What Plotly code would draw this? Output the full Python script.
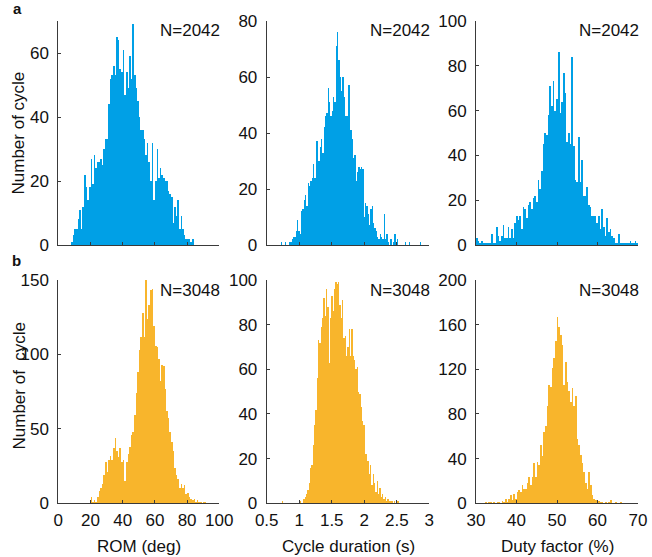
import numpy as np
import plotly.graph_objects as go

# ---------------- data (bin counts) ----------------
# Row a (blue, N=2042)
rom_a_start, rom_a_width = 8.0, 1.0
rom_a_counts = [1,3,5,5,8,11,5,12,22,18,14,18,27,19,28,24,26,26,27,25,30,33,
                33,44,52,53,56,53,65,64,55,54,61,47,54,49,59,52,69,53,49,45,40,36,36,33,
                28,32,26,20,32,14,20,30,21,24,22,21,20,20,17,16,15,7,12,9,14,5,9,5,3,2,2,2,1,2]

dur_a_start, dur_a_width = 0.72, 0.0205
dur_a_counts = [1,0,0,1,0,0,1,1,
                2,3,3,5,9,5,4,12,13,16,18,14,22,21,23,24,29,24,37,37,30,35,38,33,42,46,47,56,51,46,
                48,53,51,71,76,66,60,55,60,53,46,46,57,57,41,38,31,32,23,26,28,27,28,27,10,15,14,11,7,13,
                14,8,6,5,3,2,4,3,2,11,
                2,4,1,0,2,0,1,4,1,2,0,0,0,0,0,1,0,0,1,0,0,0,0,0,0,0,1]

duty_a_start, duty_a_width = 30.0, 40.0 / 97
duty_a_counts = [3,2,1,2,1,1,1,1,1,5,1,1,8,4,2,4,9,3,3,8,3,7,3,10,13,11,13,7,17,16,
                 12,18,19,16,21,22,19,29,25,33,45,50,49,58,71,62,73,60,65,86,59,64,77,68,46,50,45,84,44,29,
                 28,48,28,38,22,22,26,18,17,13,13,13,10,13,7,16,8,4,12,6,7,4,3,1,1,5,1,1,1,1,
                 1,1,2,1,1,2,1]

# Row b (orange, N=3048)
rom_b_start, rom_b_width = 20.0, 1.0
rom_b_counts = [4,1,2,1,4,8,10,13,19,28,21,29,32,29,37,44,35,31,37,28,
                29,15,28,33,38,46,48,59,74,88,103,112,128,112,150,124,133,143,144,119,
                106,105,97,82,93,92,77,62,57,48,41,35,24,19,16,10,13,10,12,6,
                7,4,3,2,3,1,2,1,1,0,1,1]

dur_b_start, dur_b_width = 0.7356, 0.0205
dur_b_counts = [1,0,0,0,0,0,0,0,0,0,0,0,0,1,0,0,
                2,3,4,6,9,16,17,26,35,42,56,73,72,79,83,92,84,96,88,63,83,93,86,96,99,
                98,99,89,83,91,74,75,66,70,78,66,78,66,64,60,61,50,49,43,37,35,22,22,19,13,
                17,8,13,9,5,10,4,7,3,4,2,3,1,2,1,1,
                1,0,1,0,1,1,0,0]

duty_b_start, duty_b_width = 32.22, 0.4115
duty_b_counts = [1,0,1,1,0,1,0,1,1,0,2,1,
                 4,1,4,7,3,8,4,10,12,10,16,13,13,18,24,16,24,36,24,37,34,52,42,64,69,87,106,104,
                 121,130,145,167,158,151,142,106,127,109,101,91,103,87,96,58,52,43,36,28,18,13,28,16,7,4,3,1,
                 2,1,1,0,1,0,1,3,0,0,1,0,0,1]

n_labels = ["N=2042", "N=3048"]
x_titles = ["ROM (deg)", "Cycle duration (s)", "Duty factor (%)"]
y_titles = ["Number of cycle", "Number of\u00a0 cycle"]

x_ranges = [[0, 100], [0.5, 3], [30, 70]]
x_tickvals = [[0, 20, 40, 60, 80, 100], [0.5, 1, 1.5, 2, 2.5, 3], [30, 40, 50, 60, 70]]
x_ticktext = [["0", "20", "40", "60", "80", "100"], ["0.5", "1", "1.5", "2", "2.5", "3"],
              ["30", "40", "50", "60", "70"]]
y_ranges = [[[0, 70], [0, 80], [0, 100]], [[0, 150], [0, 100], [0, 200]]]
y_tickvals = [[[0, 20, 40, 60], [0, 20, 40, 60, 80], [0, 20, 40, 60, 80, 100]],
              [[0, 50, 100, 150], [0, 20, 40, 60, 80, 100], [0, 40, 80, 120, 160, 200]]]

series = [[(rom_a_start, rom_a_width, rom_a_counts),
           (dur_a_start, dur_a_width, dur_a_counts),
           (duty_a_start, duty_a_width, duty_a_counts)],
          [(rom_b_start, rom_b_width, rom_b_counts),
           (dur_b_start, dur_b_width, dur_b_counts),
           (duty_b_start, duty_b_width, duty_b_counts)]]

colors = ["#00A0E6", "#F8B52C"]

# ---------------- layout ----------------
W, H = 652, 557
col_px = [(58.3, 219.3), (266.7, 429.3), (476.0, 638.0)]
row_px = [(21.0, 245.0), (280.0, 503.3)]
FONT = "Liberation Sans, Arial, Helvetica, sans-serif"
AXC = "#3a3a3a"
TXT = "#111111"

def px_x(v):
    return v / W

def px_y(v):
    return 1 - v / H

fig = go.Figure()
layout = dict(
    template="none",
    width=W, height=H, margin=dict(l=0, r=0, t=0, b=0, autoexpand=False),
    paper_bgcolor="white", plot_bgcolor="white", showlegend=False,
    bargap=0, font=dict(family=FONT, size=17, color=TXT),
)
annotations = []
idx = 0
for r in range(2):
    for c in range(3):
        idx += 1
        xa = "xaxis" if idx == 1 else f"xaxis{idx}"
        ya = "yaxis" if idx == 1 else f"yaxis{idx}"
        xr = "x" if idx == 1 else f"x{idx}"
        yr = "y" if idx == 1 else f"y{idx}"
        start, width, counts = series[r][c]
        centers = start + width * (np.arange(len(counts)) + 0.5)
        fig.add_trace(go.Bar(x=centers, y=counts, width=width, xaxis=xr, yaxis=yr,
                             marker=dict(color=colors[r], line=dict(width=0)),
                             hoverinfo="skip"))
        layout[xa] = dict(
            domain=[col_px[c][0] / W, col_px[c][1] / W], anchor=yr, automargin=False,
            range=x_ranges[c], tickvals=x_tickvals[c], ticktext=x_ticktext[c],
            showticklabels=(r == 1), ticks="inside", ticklen=3, tickwidth=1, tickcolor=AXC,
            showline=True, linecolor=AXC, linewidth=1, showgrid=False, zeroline=False,
            tickfont=dict(size=17, color=TXT), ticklabelstandoff=1, fixedrange=True,
        )
        layout[ya] = dict(
            domain=[1 - row_px[r][1] / H, 1 - row_px[r][0] / H], anchor=xr, automargin=False,
            range=y_ranges[r][c], tickvals=y_tickvals[r][c],
            ticks="inside", ticklen=3, tickwidth=1, tickcolor=AXC,
            showline=True, linecolor=AXC, linewidth=1, showgrid=False, zeroline=False,
            tickfont=dict(size=17, color=TXT), ticklabelstandoff=5, fixedrange=True,
        )
        annotations.append(dict(text=n_labels[r], xref="paper", yref="paper",
                                x=px_x(col_px[c][1] + 3), y=px_y(row_px[r][0] + 10),
                                xanchor="right", yanchor="middle", showarrow=False,
                                font=dict(size=17, color=TXT)))
        if r == 1:
            annotations.append(dict(text=x_titles[c], xref="paper", yref="paper",
                                    x=px_x((col_px[c][0] + col_px[c][1]) / 2), y=px_y(546),
                                    xanchor="center", yanchor="middle", showarrow=False,
                                    font=dict(size=17, color=TXT)))

for r in range(2):
    annotations.append(dict(text=y_titles[r], xref="paper", yref="paper",
                            x=px_x(18.5), y=px_y(133 if r == 0 else 386), textangle=-90,
                            xanchor="center", yanchor="middle", showarrow=False,
                            font=dict(size=17, color=TXT)))
annotations.append(dict(text="<b>a</b>", xref="paper", yref="paper", x=px_x(17), y=px_y(9),
                        xanchor="center", yanchor="middle", showarrow=False,
                        font=dict(size=15, color=TXT)))
annotations.append(dict(text="<b>b</b>", xref="paper", yref="paper", x=px_x(16), y=px_y(261),
                        xanchor="center", yanchor="middle", showarrow=False,
                        font=dict(size=15, color=TXT)))
layout["annotations"] = annotations
fig.update_layout(**layout)
# remove the default 8px page margin so the figure fills the window exactly
fig.write_html("out.html",
               config={"displayModeBar": False, "staticPlot": True},
               post_script="document.body.style.margin='0px';document.body.style.overflow='hidden';")
